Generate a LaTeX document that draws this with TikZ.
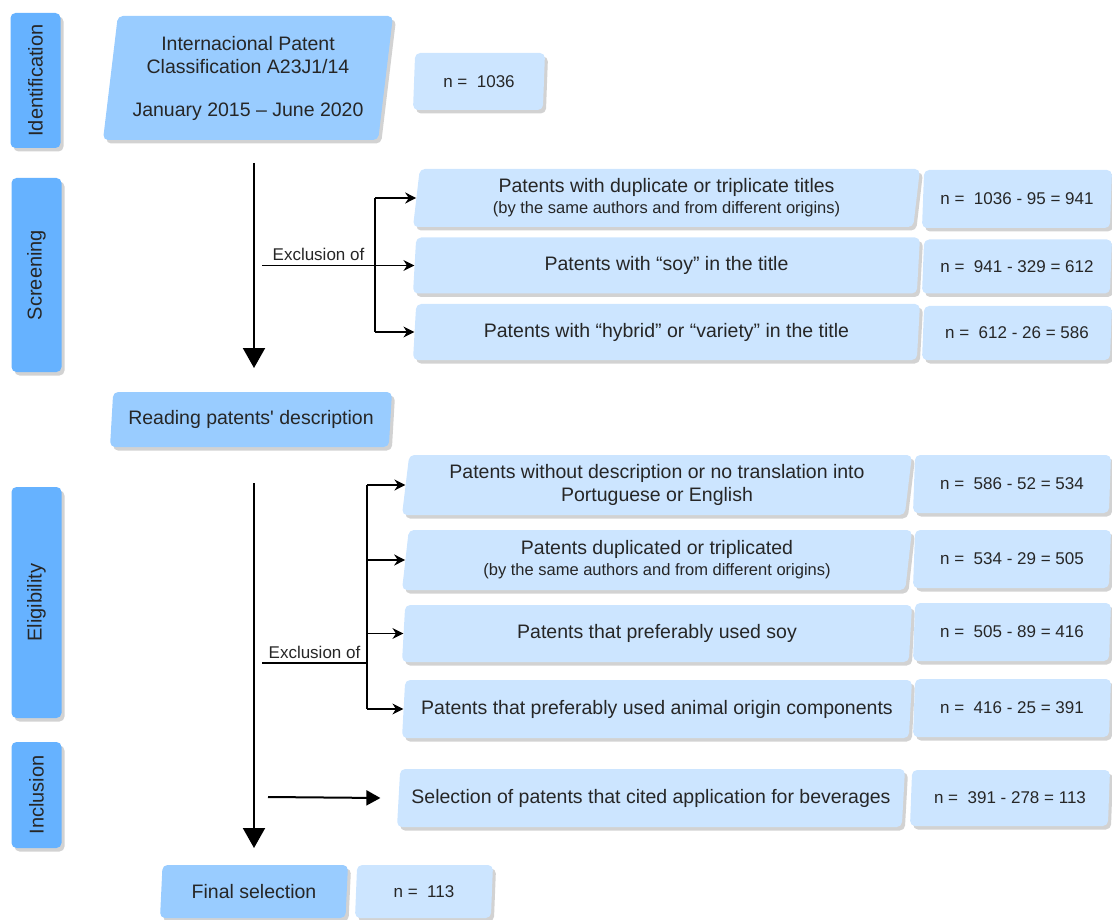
\documentclass[tikz,border=0pt]{standalone}
\usepackage{fontspec}
\setmainfont{Liberation Sans}
\usetikzlibrary{arrows.meta,positioning,shapes.geometric,shadows}

\definecolor{stagec}{HTML}{66B2FF}
\definecolor{mainc}{HTML}{99CCFF}
\definecolor{nc}{HTML}{CCE5FF}
\newcommand{\boxfont}{\fontsize{19.5}{23}\selectfont}
\newcommand{\notefont}{\fontsize{16.5}{20}\selectfont}
\newcommand{\nfont}{\fontsize{17}{20}\selectfont}
\newcommand{\stagefont}{\fontsize{20}{24}\selectfont}

\tikzset{
  base/.style={text=black!85, inner sep=0pt,
    drop shadow={shadow xshift=3pt, shadow yshift=-3.5pt, fill=black!35}},
  stage/.style={base, rounded corners=5pt, fill=stagec, minimum width=50pt, font=\stagefont},
  slant/.style={base, trapezium, trapezium left angle=80, trapezium right angle=100,
    trapezium stretches body, rounded corners=5pt},
  mainbox/.style={slant, fill=mainc, align=center, font=\boxfont},
  textbox/.style={mainbox, fill=nc},
  nbox/.style={slant, fill=nc, font=\nfont},
  mainline/.style={line width=2pt},
  bigarrow/.style={mainline, -{Triangle[width=22pt,length=20pt]}},
  branch/.style={line width=1.5pt},
  smallarrow/.style={branch, -{Stealth[width=11pt,length=11pt]}},
  exlabel/.style={font=\nfont, text=black!85, inner sep=4pt}
}

\begin{document}
\begin{tikzpicture}[x=1pt, y=-1pt]
  \useasboundingbox (0,0) rectangle (1112,920);

  \node[stage, minimum height=135pt] (ident) at (35.5,80.5) {\rotatebox{90}{Identification}};
  \node[stage, minimum height=194pt] (screen) at (36.5,275) {\rotatebox{90}{Screening}};
  \node[stage, minimum height=231pt] (elig) at (36.5,602.5) {\rotatebox{90}{Eligibility}};
  \node[stage, minimum height=106pt] (incl) at (36.5,795) {\rotatebox{90}{Inclusion}};

  \node[mainbox, minimum width=290pt, minimum height=124pt] (ipc) at (248,78)
    {Internacional Patent\\Classification A23J1/14\\[20pt]January 2015 – June 2020};
  \node[nbox, minimum width=132pt, minimum height=57pt] (n0) at (479,81.5) {n =~ 1036};

  \node[textbox, minimum width=507pt, minimum height=58pt] (scr1) at (666.5,198)
    {Patents with duplicate or triplicate titles\\[-2pt]{\notefont (by the same authors and from different origins)}};
  \node[textbox, minimum width=507pt, minimum height=56pt] (scr2) at (666.5,265.5)
    {Patents with “soy” in the title};
  \node[textbox, minimum width=507pt, minimum height=56pt] (scr3) at (666.5,332)
    {Patents with “hybrid” or “variety” in the title};
  \node[nbox, minimum width=190pt, minimum height=58pt] (nscr1) at (1017,199) {n =~ 1036 - 95 = 941};
  \node[nbox, minimum width=190pt, minimum height=54pt] (nscr2) at (1017,266.5) {n =~ 941 - 329 = 612};
  \node[nbox, minimum width=190pt, minimum height=54pt] (nscr3) at (1017,333) {n =~ 612 - 26 = 586};

  \node[mainbox, minimum width=282pt, minimum height=55pt] (read) at (251,419.5)
    {Reading patents\textquotesingle{} description};

  \node[textbox, minimum width=510pt, minimum height=60pt] (el1) at (657,485)
    {Patents without description or no translation into\\Portuguese or English};
  \node[textbox, minimum width=510pt, minimum height=60pt] (el2) at (657,560)
    {Patents duplicated or triplicated\\[-2pt]{\notefont (by the same authors and from different origins)}};
  \node[textbox, minimum width=510pt, minimum height=57pt] (el3) at (657,633.5)
    {Patents that preferably used soy};
  \node[textbox, minimum width=510pt, minimum height=58pt] (el4) at (657,709)
    {Patents that preferably used animal origin components};
  \node[nbox, minimum width=198pt, minimum height=58pt] (nel1) at (1012,484) {n =~ 586 - 52 = 534};
  \node[nbox, minimum width=198pt, minimum height=58pt] (nel2) at (1012,559) {n =~ 534 - 29 = 505};
  \node[nbox, minimum width=198pt, minimum height=58pt] (nel3) at (1012,632) {n =~ 505 - 89 = 416};
  \node[nbox, minimum width=198pt, minimum height=58pt] (nel4) at (1012,708) {n =~ 416 - 25 = 391};

  \node[textbox, minimum width=508pt, minimum height=58pt] (sel) at (651,798)
    {Selection of patents that cited application for beverages};
  \node[nbox, minimum width=200pt, minimum height=56pt] (nsel) at (1010,798) {n =~ 391 - 278 = 113};

  \node[mainbox, minimum width=188pt, minimum height=53pt] (final) at (254,891.5) {Final selection};
  \node[nbox, minimum width=138pt, minimum height=53pt] (nfinal) at (424,891.5) {n =~ 113};

  \coordinate (top1) at (254,163);
  \coordinate (tip1) at (254,368);
  \coordinate (ex1) at (262,265.5);
  \coordinate (br1) at (375,265.5);
  \draw[bigarrow] (top1) -- (tip1);
  \draw[branch] (ex1) -- node[exlabel, above] {Exclusion of} (br1);
  \draw[branch] (br1 |- scr1.west) -- (br1 |- scr3.west);
  \foreach \b in {scr1,scr2,scr3}
    \draw[smallarrow] (br1 |- \b.west) -- (\b.west);

  \coordinate (top2) at (254,483);
  \coordinate (tip2) at (254,848);
  \coordinate (ex2) at (262,663);
  \coordinate (br2) at (367,663);
  \draw[bigarrow] (top2) -- (tip2);
  \draw[branch] (ex2) -- node[exlabel, above] {Exclusion of} (br2);
  \draw[branch] (br2 |- el1.west) -- (br2 |- el4.west);
  \foreach \b in {el1,el2,el3,el4}
    \draw[smallarrow] (br2 |- \b.west) -- (\b.west);

  \coordinate (inc) at (268,797);
  \draw[mainline, -{Triangle[width=15pt,length=14pt]}] (inc) -- ([xshift=-18pt]sel.west);
\end{tikzpicture}
\end{document}
